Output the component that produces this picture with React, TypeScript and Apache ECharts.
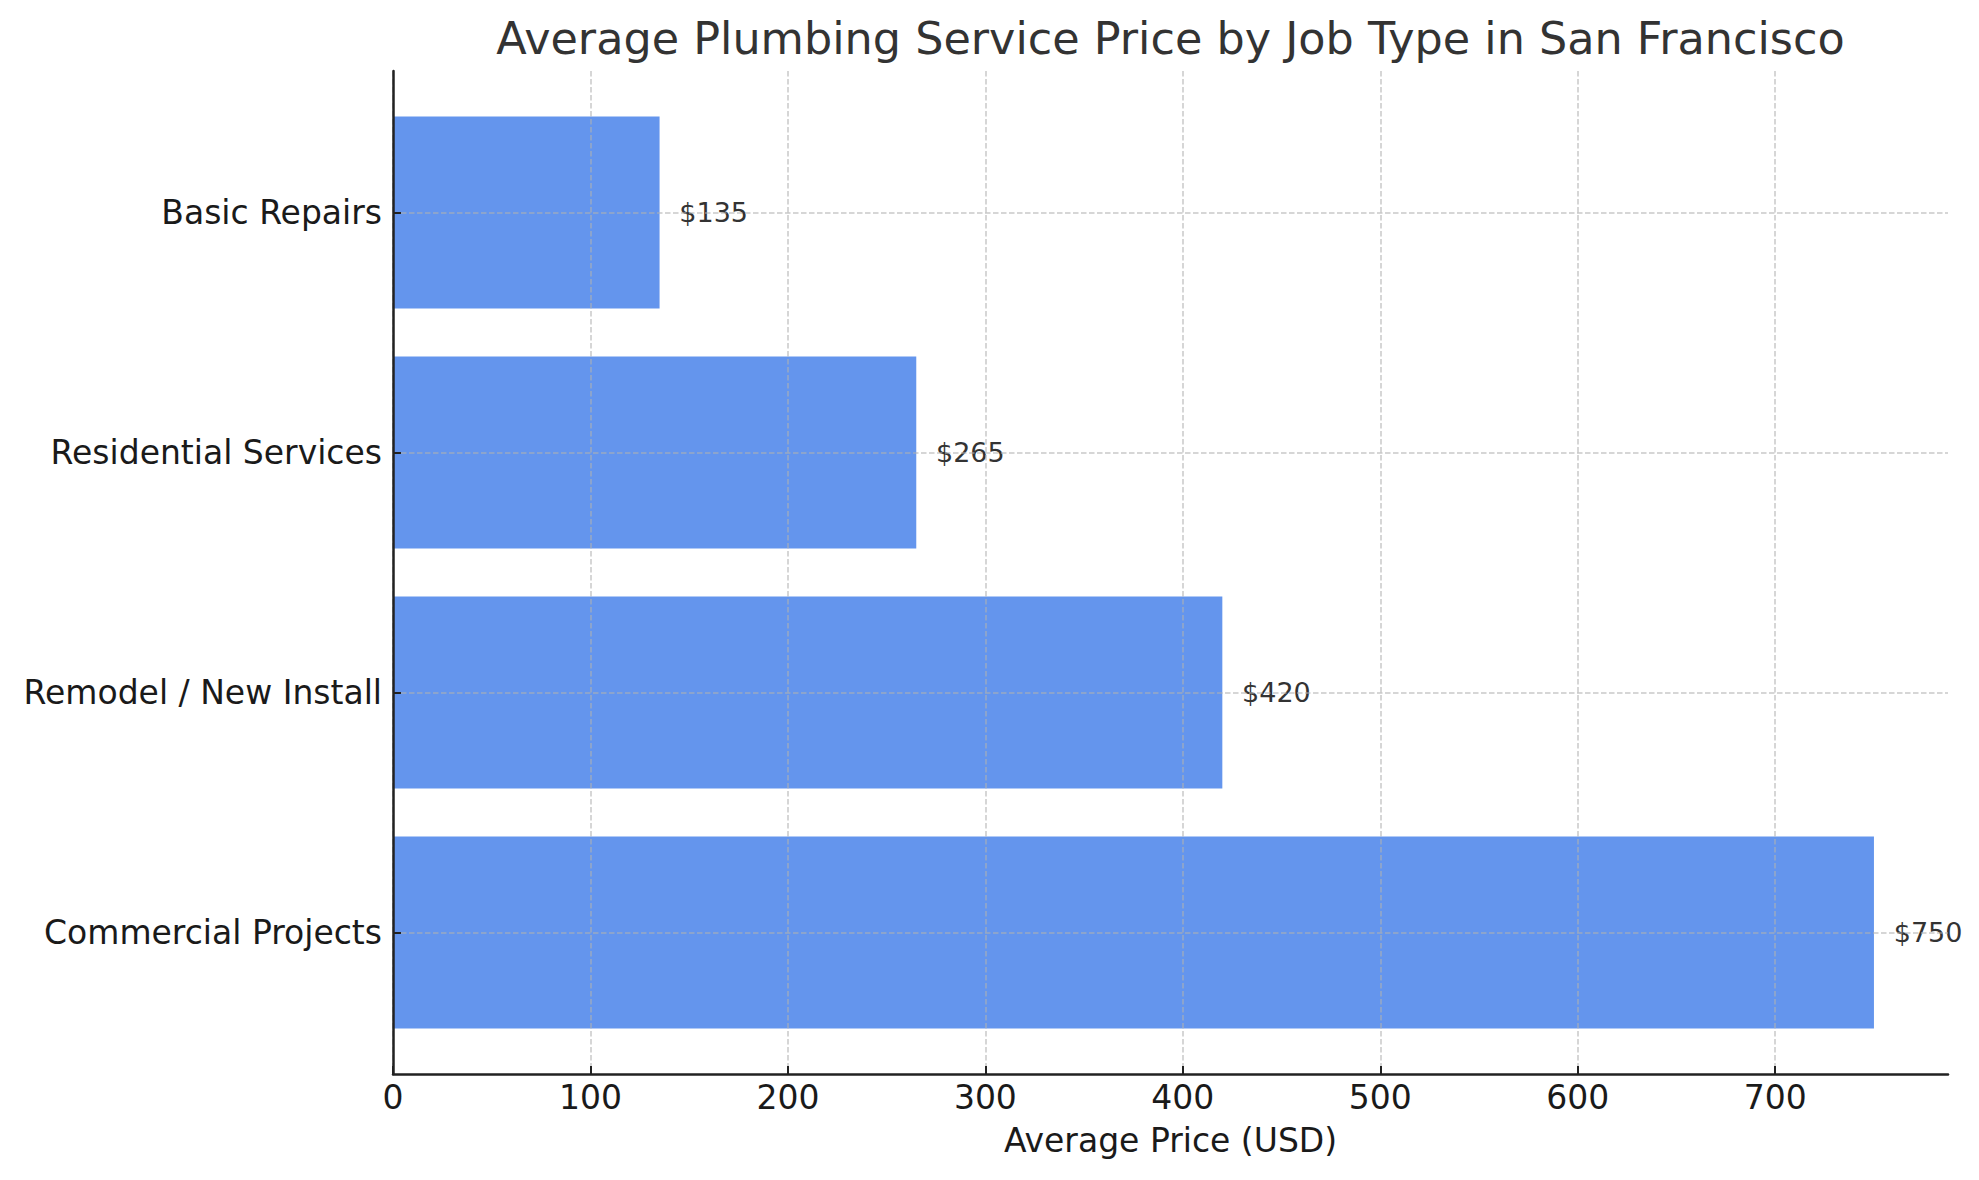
import React, { useEffect, useRef } from "react";
import * as echarts from "echarts";

const categories = ["Basic Repairs", "Residential Services", "Remodel / New Install", "Commercial Projects"];
const prices = [135, 265, 420, 750];
const xTicks = [0, 100, 200, 300, 400, 500, 600, 700];
const yTicks = [0, 1, 2, 3];
const titleText = "Average Plumbing Service Price by Job Type in San Francisco";
const xName = "Average Price (USD)";

const FONT = "'DejaVu Sans', 'Noto Sans', sans-serif";
const GRID = { left: 393, right: 31, top: 71, bottom: 106 };
const gridLineStyle = { color: "rgba(176,176,176,0.7)", width: 1.5, type: [5.5, 2.5] as any };

export default function App() {
  const ref = useRef<HTMLDivElement>(null);
  useEffect(() => {
    if (!ref.current) return;
    const chart = echarts.init(ref.current, undefined, { renderer: "svg" });
    const barData = prices.map((v, i) => [v, i]);
    const plotCenter = GRID.left + (1979 - GRID.left - GRID.right) / 2;
    chart.setOption({
      animation: false,
      backgroundColor: "#ffffff",
      graphic: [
        {
          type: "text",
          x: plotCenter,
          y: 38,
          style: {
            text: titleText,
            fill: "#333333",
            font: `44.5px ${FONT}`,
            align: "center",
            verticalAlign: "middle",
            textAlign: "center",
            textVerticalAlign: "middle",
          },
        },
      ],
      grid: { ...GRID, containLabel: false },
      xAxis: {
        type: "value",
        min: 0,
        max: 787.5,
        z: 10,
        name: xName,
        nameLocation: "middle",
        nameGap: 50,
        nameTextStyle: { fontFamily: FONT, fontSize: 33, color: "#1a1a1a" },
        axisLine: { show: true, onZero: false, lineStyle: { color: "#222222", width: 2.5 } },
        axisTick: { show: true, inside: true, length: 8, customValues: xTicks, lineStyle: { color: "#222222", width: 2 } },
        axisLabel: { customValues: xTicks, fontFamily: FONT, fontSize: 33, color: "#1a1a1a", margin: 7, lineHeight: 33 },
        splitLine: { show: true, lineStyle: gridLineStyle },
      },
      yAxis: {
        type: "value",
        min: -0.59,
        max: 3.59,
        inverse: true,
        z: 10,
        axisLine: { show: true, onZero: false, lineStyle: { color: "#222222", width: 2.5 } },
        axisTick: { show: true, inside: true, length: 8, customValues: yTicks, lineStyle: { color: "#222222", width: 2 } },
        axisLabel: {
          customValues: yTicks,
          fontFamily: FONT,
          fontSize: 33,
          color: "#1a1a1a",
          margin: 11,
          formatter: (v: number) => categories[Math.round(v)] ?? "",
        },
        splitLine: { show: true, lineStyle: gridLineStyle },
      },
      series: [
        {
          type: "custom",
          z: 2,
          data: barData,
          encode: { x: 0, y: 1 },
          renderItem: (params: any, api: any) => {
            const v = api.value(0);
            const idx = api.value(1);
            const p0 = api.coord([0, idx - 0.4]);
            const p1 = api.coord([v, idx + 0.4]);
            const pl = api.coord([v + 10, idx]);
            return {
              type: "group",
              children: [
                {
                  type: "rect",
                  shape: {
                    x: p0[0],
                    y: Math.min(p0[1], p1[1]),
                    width: p1[0] - p0[0],
                    height: Math.abs(p1[1] - p0[1]),
                  },
                  style: { fill: "#6495ED" },
                },
                {
                  type: "text",
                  x: pl[0],
                  y: pl[1],
                  z2: 100,
                  style: {
                    text: "$" + v,
                    fill: "#333333",
                    font: `27px ${FONT}`,
                    align: "left",
                    verticalAlign: "middle",
                    textAlign: "left",
                    textVerticalAlign: "middle",
                  },
                },
              ],
            };
          },
        },
      ],
    });
    return () => chart.dispose();
  }, []);
  return <div ref={ref} style={{ position: "absolute", left: 0, top: 0, width: 1979, height: 1180 }} />;
}
